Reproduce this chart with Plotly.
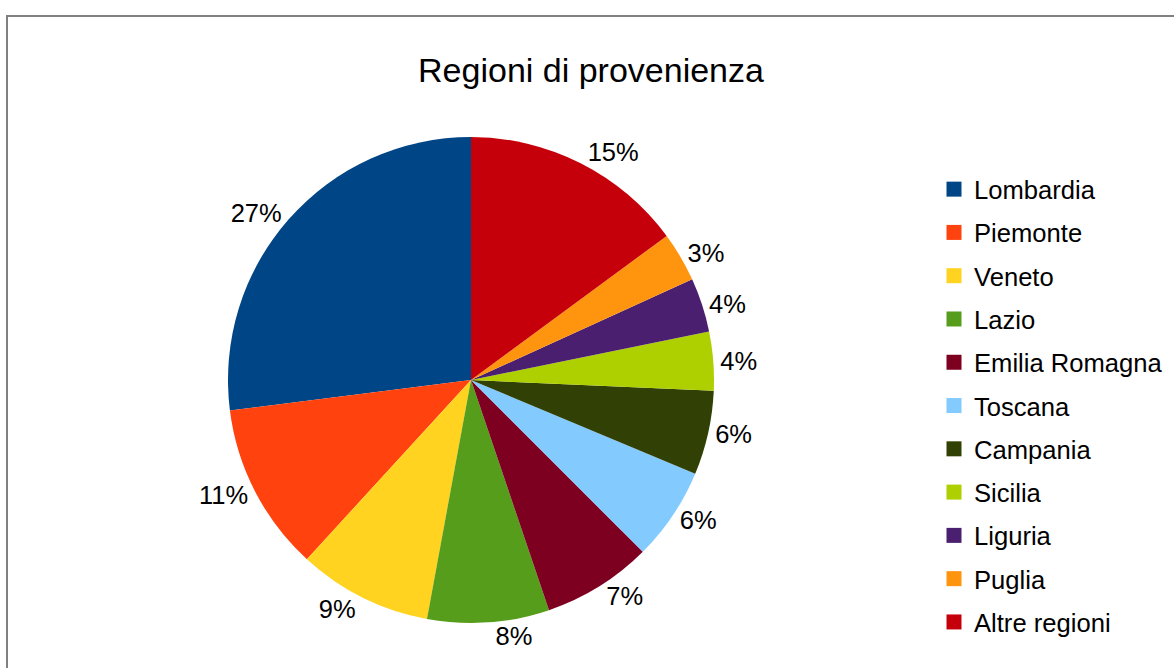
import plotly.graph_objects as go

regions = ["Lombardia", "Piemonte", "Veneto", "Lazio", "Emilia Romagna", "Toscana",
           "Campania", "Sicilia", "Liguria", "Puglia", "Altre regioni"]
shares = [27.0, 11.2, 8.9, 8.1, 7.3, 6.2, 5.6, 3.9, 3.6, 3.3, 14.9]
colors = ["#004586", "#ff420e", "#ffd320", "#579d1c", "#7e0021", "#83caff",
          "#314004", "#aecf00", "#4b1f6f", "#ff950e", "#c5000b"]
title_text = "Regioni di provenienza"

W, H = 1174, 668
FONT = "Liberation Sans, Arial, sans-serif"

# plotly's counterclockwise mode draws the first slice clockwise of the start angle;
# rotate back so the first slice starts at 12 o'clock and runs counterclockwise
start_rot = -shares[0] / sum(shares) * 360

fig = go.Figure()
fig.add_trace(go.Pie(
    labels=regions, values=shares, sort=False, direction="counterclockwise", rotation=start_rot,
    marker=dict(colors=colors, line=dict(width=0)),
    texttemplate="%{percent:.0%}", textposition="outside",
    textfont=dict(family=FONT, size=25.5, color="#000000"),
    showlegend=False, hoverinfo="label+percent",
    domain=dict(x=[228 / W, 714 / W], y=[1 - 623 / H, 1 - 137 / H]),
))

for r, c in zip(regions, colors):
    fig.add_trace(go.Scatter(
        x=[None], y=[None], mode="markers", name=r, legendgroup=r,
        marker=dict(symbol="square", size=15, color=c, line=dict(width=0)),
        showlegend=True,
    ))

fig.update_layout(
    width=W, height=H,
    margin=dict(l=0, r=0, t=0, b=0),
    paper_bgcolor="white", plot_bgcolor="white",
    title=dict(text=title_text, x=591 / W, xanchor="center", y=1 - 70 / H, yanchor="middle",
               font=dict(family=FONT, size=34, color="#000000")),
    xaxis=dict(visible=False), yaxis=dict(visible=False),
    legend=dict(x=934 / W, xanchor="left", y=1 - 166 / H, yanchor="top",
                font=dict(family=FONT, size=25.6, color="#000000"),
                tracegroupgap=7.0, bgcolor="rgba(0,0,0,0)", borderwidth=0),
    shapes=[dict(type="rect", xref="paper", yref="paper",
                 x0=7 / W, x1=1.05, y0=-0.05, y1=1 - 16 / H,
                 line=dict(color="#808080", width=2), fillcolor="rgba(0,0,0,0)", layer="above")],
)

fig.write_html(
    "out.html",
    config={"displayModeBar": False},
    post_script="document.body.style.margin='0';document.body.style.overflow='hidden';",
)
